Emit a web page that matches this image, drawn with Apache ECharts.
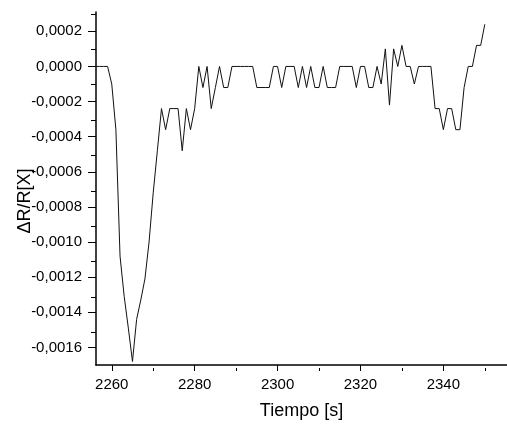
<!DOCTYPE html>
<html>
<head>
<meta charset="utf-8">
<script src="https://cdn.jsdelivr.net/npm/echarts@6/dist/echarts.min.js"></script>
<style>
html,body{margin:0;padding:0;background:#fff;}
#chart{width:507px;height:425px;}
</style>
</head>
<body>
<div id="chart"></div>
<script>
// Time stamps (s)
var times = [2256,2257,2258,2259,2260,2261,2262,2263,2264,2265,2266,2267,2268,2269,2270,2271,2272,2273,2274,2275,
2276,2277,2278,2279,2280,2281,2282,2283,2284,2285,2286,2287,2288,2289,2290,2291,2292,2293,2294,2295,
2296,2297,2298,2299,2300,2301,2302,2303,2304,2305,2306,2307,2308,2309,2310,2311,2312,2313,2314,2315,
2316,2317,2318,2319,2320,2321,2322,2323,2324,2325,2326,2327,2328,2329,2330,2331,2332,2333,2334,2335,
2336,2337,2338,2339,2340,2341,2342,2343,2344,2345,2346,2347,2348,2349,2350];
// dR/R values
var values = [0,0,0,0,-0.0001,-0.00036,-0.00108,-0.00131,-0.00149,-0.00168,-0.00144,-0.00133,-0.00121,-0.001,-0.00072,-0.00048,-0.00024,-0.00036,-0.00024,-0.00024,
-0.00024,-0.00048,-0.00024,-0.00036,-0.00024,0,-0.00012,0,-0.00024,-0.00012,0,-0.00012,-0.00012,0,0,0,0,0,0,-0.00012,
-0.00012,-0.00012,-0.00012,0,0,-0.00012,0,0,0,-0.00012,0,-0.00012,0,-0.00012,-0.00012,0,-0.00012,-0.00012,-0.00012,0,
0,0,0,-0.00012,0,0,-0.00012,-0.00012,0,-0.0001,0.0001,-0.00022,0.0001,0,0.00012,0,0,-0.0001,0,0,
0,0,-0.00024,-0.00024,-0.00036,-0.00024,-0.00024,-0.00036,-0.00036,-0.00012,0,0,0.00012,0.00012,0.00024];
// Tick values
var xMajorTicks = [2260,2280,2300,2320,2340];
var xMinorTicks = [2270,2290,2310,2330,2350];
var yMajorTicks = [-0.0016,-0.0014,-0.0012,-0.0010,-0.0008,-0.0006,-0.0004,-0.0002,0,0.0002];
var yMinorTicks = [-0.0015,-0.0013,-0.0011,-0.0009,-0.0007,-0.0005,-0.0003,-0.0001,0.0001,0.0003];
var xTitle = 'Tiempo [s]';
var yTitle = '\u0394R/R[X]';

var X_MIN = 2256.2, X_MAX = 2355.35, Y_MIN = -0.0017, Y_MAX = 0.00031;
var font = 'Liberation Sans, Arial, sans-serif';

function fmtY(v){
  var s = (Math.round(v*1e4)/1e4).toFixed(4).replace('.', ',');
  if (s === '-0,0000') s = '0,0000';
  return s;
}

var chart = echarts.init(document.getElementById('chart'), null, {renderer:'canvas'});
var gridRect = {left:96, top:12, right:0, bottom:57};
chart.setOption({
  animation:false,
  backgroundColor:'#fff',
  grid:[
    Object.assign({containLabel:false}, gridRect),
    Object.assign({containLabel:false}, gridRect)
  ],
  xAxis:[
    {
      type:'value', gridIndex:0, min:X_MIN, max:X_MAX, position:'bottom',
      name:xTitle, nameLocation:'middle', nameGap:37,
      nameTextStyle:{fontFamily:font, fontSize:18, color:'#000'},
      axisLine:{show:true, onZero:false, lineStyle:{color:'#000', width:1.5}},
      axisTick:{show:true, inside:false, length:6, customValues:xMajorTicks, lineStyle:{color:'#000', width:1}},
      axisLabel:{show:true, margin:12, customValues:xMajorTicks, fontFamily:font, fontSize:15, color:'#000',
        formatter:function(v){return String(Math.round(v));}},
      splitLine:{show:false}
    },
    {
      type:'value', gridIndex:1, min:X_MIN, max:X_MAX, position:'bottom',
      axisLine:{show:false, onZero:false},
      axisTick:{show:true, inside:false, length:3, customValues:xMinorTicks, lineStyle:{color:'#000', width:1}},
      axisLabel:{show:false},
      splitLine:{show:false}
    }
  ],
  yAxis:[
    {
      type:'value', gridIndex:0, min:Y_MIN, max:Y_MAX, position:'left',
      axisLine:{show:true, onZero:false, lineStyle:{color:'#000', width:1.5}},
      axisTick:{show:true, inside:false, length:8, customValues:yMajorTicks, lineStyle:{color:'#000', width:1}},
      axisLabel:{show:true, margin:14, customValues:yMajorTicks, fontFamily:font, fontSize:15, color:'#000',
        formatter:fmtY},
      splitLine:{show:false}
    },
    {
      type:'value', gridIndex:1, min:Y_MIN, max:Y_MAX, position:'left',
      axisLine:{show:false, onZero:false},
      axisTick:{show:true, inside:false, length:5, customValues:yMinorTicks, lineStyle:{color:'#000', width:1}},
      axisLabel:{show:false},
      splitLine:{show:false}
    }
  ],
  graphic:[{
    type:'text', x:25, y:201, rotation:Math.PI/2,
    style:{text:yTitle, fontFamily:font, fontSize:18, fill:'#000', align:'center', verticalAlign:'middle'}
  }],
  series:[{
    type:'line', xAxisIndex:0, yAxisIndex:0,
    data: times.map(function(t,i){return [t, values[i]];}),
    symbol:'none', clip:true,
    lineStyle:{color:'#111', width:1}
  }]
});
</script>
</body>
</html>
